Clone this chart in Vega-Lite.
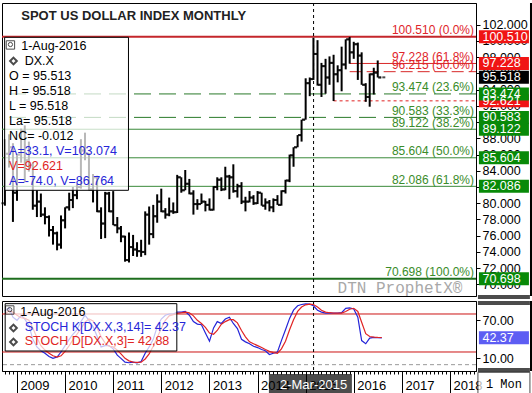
{
"$schema": "https://vega.github.io/schema/vega-lite/v6.json",
"padding": 0,
"spacing": 5,
"bounds": "flush",
"config": {"view": {"stroke": "#000", "strokeWidth": 1}, "font": "Liberation Sans", "text": {"font": "Liberation Sans"}, "axis": {"labelFont": "Liberation Sans"}},
"datasets": {
"ohlc": [
{"d":"2008-10-01","o":80.0,"h":87.9,"l":79.7,"c":86.1},
{"d":"2008-11-01","o":86.1,"h":88.5,"l":84.4,"c":86.9},
{"d":"2008-12-01","o":86.9,"h":87.4,"l":77.7,"c":81.3},
{"d":"2009-01-01","o":81.3,"h":86.0,"l":80.3,"c":86.0},
{"d":"2009-02-01","o":86.0,"h":89.2,"l":85.0,"c":88.9},
{"d":"2009-03-01","o":88.9,"h":89.6,"l":82.6,"c":85.3},
{"d":"2009-04-01","o":85.3,"h":87.6,"l":83.9,"c":84.7},
{"d":"2009-05-01","o":84.7,"h":85.0,"l":79.2,"c":79.7},
{"d":"2009-06-01","o":79.7,"h":81.6,"l":78.3,"c":80.2},
{"d":"2009-07-01","o":80.2,"h":81.2,"l":78.3,"c":78.6},
{"d":"2009-08-01","o":78.6,"h":79.5,"l":77.4,"c":78.3},
{"d":"2009-09-01","o":78.3,"h":78.5,"l":75.9,"c":76.7},
{"d":"2009-10-01","o":76.7,"h":77.2,"l":74.9,"c":76.3},
{"d":"2009-11-01","o":76.3,"h":76.5,"l":74.2,"c":74.9},
{"d":"2009-12-01","o":74.9,"h":78.5,"l":74.4,"c":77.9},
{"d":"2010-01-01","o":77.9,"h":79.5,"l":76.9,"c":79.5},
{"d":"2010-02-01","o":79.5,"h":81.3,"l":79.1,"c":80.4},
{"d":"2010-03-01","o":80.4,"h":82.0,"l":79.4,"c":81.0},
{"d":"2010-04-01","o":81.0,"h":82.4,"l":80.5,"c":82.0},
{"d":"2010-05-01","o":82.0,"h":87.9,"l":81.8,"c":86.5},
{"d":"2010-06-01","o":86.5,"h":88.7,"l":85.3,"c":86.1},
{"d":"2010-07-01","o":86.1,"h":86.2,"l":81.6,"c":81.7},
{"d":"2010-08-01","o":81.7,"h":83.6,"l":80.1,"c":83.2},
{"d":"2010-09-01","o":83.2,"h":83.4,"l":78.9,"c":79.0},
{"d":"2010-10-01","o":79.0,"h":79.5,"l":75.6,"c":77.5},
{"d":"2010-11-01","o":77.5,"h":81.4,"l":75.7,"c":81.2},
{"d":"2010-12-01","o":81.2,"h":81.4,"l":78.9,"c":79.0},
{"d":"2011-01-01","o":79.0,"h":81.5,"l":77.3,"c":77.3},
{"d":"2011-02-01","o":77.3,"h":78.3,"l":76.3,"c":76.9},
{"d":"2011-03-01","o":76.9,"h":77.2,"l":75.2,"c":75.9},
{"d":"2011-04-01","o":75.9,"h":76.0,"l":72.8,"c":73.0},
{"d":"2011-05-01","o":73.0,"h":76.4,"l":72.7,"c":74.6},
{"d":"2011-06-01","o":74.6,"h":76.1,"l":73.5,"c":74.3},
{"d":"2011-07-01","o":74.3,"h":75.2,"l":73.4,"c":74.1},
{"d":"2011-08-01","o":74.1,"h":75.5,"l":73.4,"c":74.0},
{"d":"2011-09-01","o":74.0,"h":79.0,"l":73.6,"c":78.6},
{"d":"2011-10-01","o":78.6,"h":79.6,"l":74.9,"c":76.2},
{"d":"2011-11-01","o":76.2,"h":79.8,"l":75.7,"c":78.4},
{"d":"2011-12-01","o":78.4,"h":81.1,"l":77.6,"c":80.2},
{"d":"2012-01-01","o":80.2,"h":81.8,"l":78.9,"c":79.0},
{"d":"2012-02-01","o":79.0,"h":79.4,"l":78.1,"c":78.6},
{"d":"2012-03-01","o":78.6,"h":80.7,"l":78.4,"c":79.0},
{"d":"2012-04-01","o":79.0,"h":80.1,"l":78.7,"c":78.9},
{"d":"2012-05-01","o":78.9,"h":83.5,"l":78.8,"c":83.2},
{"d":"2012-06-01","o":83.2,"h":83.2,"l":81.3,"c":81.6},
{"d":"2012-07-01","o":81.6,"h":84.1,"l":81.6,"c":82.4},
{"d":"2012-08-01","o":82.4,"h":83.0,"l":81.1,"c":81.2},
{"d":"2012-09-01","o":81.2,"h":81.6,"l":78.6,"c":79.9},
{"d":"2012-10-01","o":79.9,"h":80.5,"l":79.2,"c":79.9},
{"d":"2012-11-01","o":79.9,"h":81.2,"l":79.9,"c":80.2},
{"d":"2012-12-01","o":80.2,"h":80.3,"l":79.0,"c":79.8},
{"d":"2013-01-01","o":79.8,"h":80.6,"l":79.1,"c":79.2},
{"d":"2013-02-01","o":79.2,"h":82.1,"l":79.1,"c":82.0},
{"d":"2013-03-01","o":82.0,"h":83.2,"l":81.6,"c":82.9},
{"d":"2013-04-01","o":82.9,"h":83.2,"l":81.5,"c":81.7},
{"d":"2013-05-01","o":81.7,"h":84.5,"l":81.6,"c":83.3},
{"d":"2013-06-01","o":83.3,"h":83.5,"l":80.5,"c":83.2},
{"d":"2013-07-01","o":83.2,"h":84.8,"l":81.3,"c":81.5},
{"d":"2013-08-01","o":81.5,"h":82.4,"l":80.7,"c":82.1},
{"d":"2013-09-01","o":82.1,"h":82.6,"l":79.9,"c":80.2},
{"d":"2013-10-01","o":80.2,"h":80.8,"l":79.0,"c":80.2},
{"d":"2013-11-01","o":80.2,"h":81.5,"l":80.1,"c":80.7},
{"d":"2013-12-01","o":80.7,"h":81.0,"l":79.8,"c":80.0},
{"d":"2014-01-01","o":80.0,"h":81.5,"l":79.9,"c":81.3},
{"d":"2014-02-01","o":81.3,"h":81.3,"l":79.7,"c":79.7},
{"d":"2014-03-01","o":79.7,"h":80.6,"l":79.2,"c":80.1},
{"d":"2014-04-01","o":80.1,"h":80.4,"l":79.0,"c":79.5},
{"d":"2014-05-01","o":79.5,"h":80.6,"l":78.9,"c":80.4},
{"d":"2014-06-01","o":80.4,"h":81.0,"l":79.8,"c":79.8},
{"d":"2014-07-01","o":79.8,"h":81.6,"l":79.7,"c":81.5},
{"d":"2014-08-01","o":81.5,"h":82.9,"l":81.2,"c":82.8},
{"d":"2014-09-01","o":82.8,"h":86.0,"l":82.6,"c":85.9},
{"d":"2014-10-01","o":85.9,"h":86.9,"l":84.5,"c":86.9},
{"d":"2014-11-01","o":86.9,"h":88.4,"l":86.9,"c":88.4},
{"d":"2014-12-01","o":88.4,"h":90.3,"l":87.6,"c":90.3},
{"d":"2015-01-01","o":90.3,"h":95.4,"l":90.3,"c":94.8},
{"d":"2015-02-01","o":94.8,"h":95.5,"l":93.2,"c":95.3},
{"d":"2015-03-01","o":95.3,"h":100.4,"l":95.2,"c":98.4},
{"d":"2015-04-01","o":98.4,"h":100.1,"l":94.5,"c":94.6},
{"d":"2015-05-01","o":94.6,"h":97.3,"l":93.1,"c":96.9},
{"d":"2015-06-01","o":96.9,"h":97.8,"l":93.5,"c":95.5},
{"d":"2015-07-01","o":95.5,"h":98.1,"l":94.6,"c":97.3},
{"d":"2015-08-01","o":97.3,"h":98.3,"l":92.6,"c":95.9},
{"d":"2015-09-01","o":95.9,"h":97.0,"l":94.9,"c":96.4},
{"d":"2015-10-01","o":96.4,"h":99.3,"l":93.8,"c":97.1},
{"d":"2015-11-01","o":97.1,"h":100.2,"l":96.5,"c":100.2},
{"d":"2015-12-01","o":100.2,"h":100.5,"l":97.2,"c":98.6},
{"d":"2016-01-01","o":98.6,"h":99.9,"l":97.8,"c":99.6},
{"d":"2016-02-01","o":99.6,"h":99.8,"l":95.2,"c":98.2},
{"d":"2016-03-01","o":98.2,"h":98.6,"l":94.6,"c":94.6},
{"d":"2016-04-01","o":94.6,"h":94.8,"l":92.5,"c":93.1},
{"d":"2016-05-01","o":93.1,"h":96.0,"l":91.9,"c":95.9},
{"d":"2016-06-01","o":95.9,"h":96.7,"l":93.4,"c":96.1},
{"d":"2016-07-01","o":96.1,"h":97.6,"l":95.5,"c":95.5},
{"d":"2016-08-01","o":95.513,"h":95.518,"l":95.518,"c":95.518}
],
"stoch": [
{"d":"2008-10-01","k":85,"dv":80},{"d":"2008-11-01","k":90,"dv":85},{"d":"2008-12-01","k":75,"dv":83},
{"d":"2009-01-01","k":70,"dv":78},{"d":"2009-02-01","k":78,"dv":74},{"d":"2009-03-01","k":72,"dv":73},
{"d":"2009-04-01","k":62,"dv":70},{"d":"2009-05-01","k":40,"dv":58},{"d":"2009-06-01","k":28,"dv":43},
{"d":"2009-07-01","k":22,"dv":30},{"d":"2009-08-01","k":18,"dv":23},{"d":"2009-09-01","k":13,"dv":18},
{"d":"2009-10-01","k":10,"dv":14},{"d":"2009-11-01","k":12,"dv":12},{"d":"2009-12-01","k":20,"dv":14},
{"d":"2010-01-01","k":30,"dv":21},{"d":"2010-02-01","k":40,"dv":30},{"d":"2010-03-01","k":48,"dv":39},
{"d":"2010-04-01","k":55,"dv":48},{"d":"2010-05-01","k":68,"dv":57},{"d":"2010-06-01","k":78,"dv":67},
{"d":"2010-07-01","k":70,"dv":72},{"d":"2010-08-01","k":60,"dv":69},{"d":"2010-09-01","k":45,"dv":58},
{"d":"2010-10-01","k":28,"dv":44},{"d":"2010-11-01","k":30,"dv":34},{"d":"2010-12-01","k":30,"dv":29},
{"d":"2011-01-01","k":25,"dv":28},{"d":"2011-02-01","k":15,"dv":23},{"d":"2011-03-01","k":10,"dv":17},
{"d":"2011-04-01","k":4,"dv":10},{"d":"2011-05-01","k":3,"dv":6},{"d":"2011-06-01","k":4,"dv":4},
{"d":"2011-07-01","k":3,"dv":3.5},{"d":"2011-08-01","k":5,"dv":4},{"d":"2011-09-01","k":18,"dv":9},
{"d":"2011-10-01","k":28,"dv":17},{"d":"2011-11-01","k":40,"dv":29},{"d":"2011-12-01","k":60,"dv":43},
{"d":"2012-01-01","k":72,"dv":57},{"d":"2012-02-01","k":78,"dv":70},{"d":"2012-03-01","k":80,"dv":77},
{"d":"2012-04-01","k":80,"dv":79},{"d":"2012-05-01","k":83,"dv":81},{"d":"2012-06-01","k":83,"dv":82},
{"d":"2012-07-01","k":84,"dv":83},{"d":"2012-08-01","k":78,"dv":82},{"d":"2012-09-01","k":68,"dv":77},
{"d":"2012-10-01","k":64,"dv":70},{"d":"2012-11-01","k":63,"dv":65},{"d":"2012-12-01","k":50,"dv":59},
{"d":"2013-01-01","k":37,"dv":50},{"d":"2013-02-01","k":58,"dv":48},{"d":"2013-03-01","k":68,"dv":54},
{"d":"2013-04-01","k":65,"dv":64},{"d":"2013-05-01","k":72,"dv":68},{"d":"2013-06-01","k":75,"dv":71},
{"d":"2013-07-01","k":65,"dv":71},{"d":"2013-08-01","k":57,"dv":66},{"d":"2013-09-01","k":40,"dv":54},
{"d":"2013-10-01","k":36,"dv":44},{"d":"2013-11-01","k":33,"dv":36},{"d":"2013-12-01","k":29,"dv":33},
{"d":"2014-01-01","k":27,"dv":30},{"d":"2014-02-01","k":24,"dv":27},{"d":"2014-03-01","k":22,"dv":24},
{"d":"2014-04-01","k":16,"dv":21},{"d":"2014-05-01","k":18,"dv":19},{"d":"2014-06-01","k":20,"dv":18},
{"d":"2014-07-01","k":38,"dv":25},{"d":"2014-08-01","k":55,"dv":37},{"d":"2014-09-01","k":73,"dv":55},
{"d":"2014-10-01","k":86,"dv":71},{"d":"2014-11-01","k":93,"dv":84},{"d":"2014-12-01","k":95,"dv":91},
{"d":"2015-01-01","k":96,"dv":94.5},{"d":"2015-02-01","k":95.5,"dv":95.5},{"d":"2015-03-01","k":93,"dv":95},
{"d":"2015-04-01","k":86,"dv":91},{"d":"2015-05-01","k":83,"dv":86},{"d":"2015-06-01","k":81.5,"dv":83},
{"d":"2015-07-01","k":81.5,"dv":82},{"d":"2015-08-01","k":81.5,"dv":81.5},{"d":"2015-09-01","k":81.5,"dv":81.5},
{"d":"2015-10-01","k":82,"dv":81.5},{"d":"2015-11-01","k":89,"dv":84},{"d":"2015-12-01","k":89.5,"dv":87.5},
{"d":"2016-01-01","k":88,"dv":89},{"d":"2016-02-01","k":75,"dv":84},{"d":"2016-03-01","k":38,"dv":67},
{"d":"2016-04-01","k":33,"dv":49},{"d":"2016-05-01","k":42,"dv":44.5},{"d":"2016-06-01","k":43,"dv":43.5},
{"d":"2016-07-01","k":42.5,"dv":43},{"d":"2016-08-01","k":42.37,"dv":42.88}
],
"fib": [
{"v":100.51,"label":"100.510 (0.0%)","set":"recent","from":"2008-09-09"},
{"v":97.228,"label":"97.228 (61.8%)","set":"recent","from":"2015-12-01"},
{"v":96.215,"label":"96.215 (50.0%)","set":"recent","from":"2015-12-01"},
{"v":93.474,"label":"93.474 (23.6%)","set":"long","from":"2008-09-09"},
{"v":90.583,"label":"90.583 (33.3%)","set":"long","from":"2008-09-09"},
{"v":89.122,"label":"89.122 (38.2%)","set":"long","from":"2008-09-09"},
{"v":85.604,"label":"85.604 (50.0%)","set":"long","from":"2008-09-09"},
{"v":82.086,"label":"82.086 (61.8%)","set":"long","from":"2008-09-09"},
{"v":70.698,"label":"70.698 (100.0%)","set":"long","from":"2008-09-09"}
],
"swing": [{"v":92.621,"from":"2015-08-01"}],
"tags": [
{"v":100.51,"txt":"100.510","kind":"recent"},
{"v":97.228,"txt":"97.228","kind":"recent"},
{"v":95.518,"txt":"95.518","kind":"last"},
{"v":92.621,"txt":"92.621","kind":"recent"},
{"v":93.474,"txt":"93.474","kind":"long"},
{"v":90.583,"txt":"90.583","kind":"long"},
{"v":89.122,"txt":"89.122","kind":"long"},
{"v":85.604,"txt":"85.604","kind":"long"},
{"v":82.086,"txt":"82.086","kind":"long"},
{"v":70.698,"txt":"70.698","kind":"long"}
],
"legend": [
{"line":1,"txt":"1-Aug-2016","kind":"info"},
{"line":2,"txt":"DX.X","kind":"info"},
{"line":3,"txt":"O = 95.513","kind":"info"},
{"line":4,"txt":"H = 95.518","kind":"info"},
{"line":5,"txt":"L = 95.518","kind":"info"},
{"line":6,"txt":"La= 95.518","kind":"info"},
{"line":7,"txt":"NC= -0.012","kind":"info"},
{"line":8,"txt":"A=33.1, V=103.074","kind":"trend"},
{"line":9,"txt":"V=92.621","kind":"level"},
{"line":10,"txt":"A=-74.0, V=86.764","kind":"trend"}
],
"stochtag": [{"v":42.37,"txt":"42.37"}],
"bands": [{"lvl":80},{"lvl":20}]
},
"vconcat": [
{
"width": 474, "height": 293,
"resolve": {"scale": {"y": "independent", "color": "independent"}},
"layer": [
{"layer": [
{"data": {"name": "fib"}, "transform": [{"filter": "datum.v == 89.122 || datum.v == 85.604 || datum.v == 82.086"}],
 "mark": {"type": "rule", "color": "#3a8a3a", "strokeWidth": 1},
 "encoding": {"y": {"field": "v", "type": "quantitative", "scale": {"domain": [68.57, 104.68], "nice": false, "zero": false},
   "axis": {"orient": "right", "values": [70,72,74,76,78,80,82,84,86,88,90,92,94,96,98,100,102], "format": ".3f", "title": null, "grid": false, "labelFontSize": 12.5, "labelColor": "#000", "tickColor": "#000", "domainColor": "#000", "tickSize": 4, "labelPadding": 2, "labelOverlap": false, "labelBound": false}}}},
{"data": {"name": "fib"}, "transform": [{"filter": "datum.v == 70.698"}],
 "mark": {"type": "rule", "color": "#1e6e1e", "strokeWidth": 2},
 "encoding": {"y": {"field": "v", "type": "quantitative", "scale": {"domain": [68.57, 104.68], "nice": false, "zero": false},
   "axis": {"orient": "right", "values": [70,72,74,76,78,80,82,84,86,88,90,92,94,96,98,100,102], "format": ".3f", "title": null, "grid": false, "labelFontSize": 12.5, "labelColor": "#000", "tickColor": "#000", "domainColor": "#000", "tickSize": 4, "labelPadding": 2, "labelOverlap": false, "labelBound": false}}}},
{"data": {"name": "fib"}, "transform": [{"filter": "datum.v == 93.474 || datum.v == 90.583"}],
 "mark": {"type": "rule", "color": "#2a7a2a", "strokeWidth": 1, "strokeDash": [17, 8]},
 "encoding": {"y": {"field": "v", "type": "quantitative", "scale": {"domain": [68.57, 104.68], "nice": false, "zero": false},
   "axis": {"orient": "right", "values": [70,72,74,76,78,80,82,84,86,88,90,92,94,96,98,100,102], "format": ".3f", "title": null, "grid": false, "labelFontSize": 12.5, "labelColor": "#000", "tickColor": "#000", "domainColor": "#000", "tickSize": 4, "labelPadding": 2, "labelOverlap": false, "labelBound": false}}}},
{"data": {"name": "fib"}, "transform": [{"filter": "datum.v == 100.51"}],
 "mark": {"type": "rule", "color": "#c4262b", "strokeWidth": 2},
 "encoding": {"y": {"field": "v", "type": "quantitative", "scale": {"domain": [68.57, 104.68], "nice": false, "zero": false},
   "axis": {"orient": "right", "values": [70,72,74,76,78,80,82,84,86,88,90,92,94,96,98,100,102], "format": ".3f", "title": null, "grid": false, "labelFontSize": 12.5, "labelColor": "#000", "tickColor": "#000", "domainColor": "#000", "tickSize": 4, "labelPadding": 2, "labelOverlap": false, "labelBound": false}}}},
{"data": {"name": "fib"}, "transform": [{"filter": "datum.v == 97.228"}],
 "mark": {"type": "rule", "color": "#d82828", "strokeWidth": 1},
 "encoding": {"x": {"field": "from", "type": "temporal", "scale": {"type": "utc", "domain": [{"year":2008,"month":9,"date":9,"utc":true}, {"year":2018,"month":7,"date":17,"utc":true}]}, "axis": null}, "x2": {"datum": {"year":2018,"month":7,"date":17,"utc":true}}, "y": {"field": "v", "type": "quantitative", "scale": {"domain": [68.57, 104.68], "nice": false, "zero": false},
   "axis": {"orient": "right", "values": [70,72,74,76,78,80,82,84,86,88,90,92,94,96,98,100,102], "format": ".3f", "title": null, "grid": false, "labelFontSize": 12.5, "labelColor": "#000", "tickColor": "#000", "domainColor": "#000", "tickSize": 4, "labelPadding": 2, "labelOverlap": false, "labelBound": false}}}},
{"data": {"name": "fib"}, "transform": [{"filter": "datum.v == 96.215"}],
 "mark": {"type": "rule", "color": "#d82828", "strokeWidth": 1, "strokeDash": [12, 5]},
 "encoding": {"x": {"field": "from", "type": "temporal", "scale": {"type": "utc", "domain": [{"year":2008,"month":9,"date":9,"utc":true}, {"year":2018,"month":7,"date":17,"utc":true}]}, "axis": null}, "x2": {"datum": {"year":2018,"month":7,"date":17,"utc":true}}, "y": {"field": "v", "type": "quantitative", "scale": {"domain": [68.57, 104.68], "nice": false, "zero": false},
   "axis": {"orient": "right", "values": [70,72,74,76,78,80,82,84,86,88,90,92,94,96,98,100,102], "format": ".3f", "title": null, "grid": false, "labelFontSize": 12.5, "labelColor": "#000", "tickColor": "#000", "domainColor": "#000", "tickSize": 4, "labelPadding": 2, "labelOverlap": false, "labelBound": false}}}},
{"data": {"name": "swing"},
 "mark": {"type": "rule", "color": "#e02020", "strokeWidth": 1, "strokeDash": [3, 3]},
 "encoding": {"x": {"field": "from", "type": "temporal", "scale": {"type": "utc", "domain": [{"year":2008,"month":9,"date":9,"utc":true}, {"year":2018,"month":7,"date":17,"utc":true}]}, "axis": null}, "x2": {"datum": {"year":2018,"month":7,"date":17,"utc":true}}, "y": {"field": "v", "type": "quantitative", "scale": {"domain": [68.57, 104.68], "nice": false, "zero": false},
   "axis": {"orient": "right", "values": [70,72,74,76,78,80,82,84,86,88,90,92,94,96,98,100,102], "format": ".3f", "title": null, "grid": false, "labelFontSize": 12.5, "labelColor": "#000", "tickColor": "#000", "domainColor": "#000", "tickSize": 4, "labelPadding": 2, "labelOverlap": false, "labelBound": false}}}},
{"data": {"values": [{}]},
 "mark": {"type": "rule", "color": "#000", "strokeWidth": 1, "strokeDash": [3, 3]},
 "encoding": {"x": {"datum": {"year":2015,"month":3,"date":2,"utc":true}, "type": "temporal", "scale": {"type": "utc", "domain": [{"year":2008,"month":9,"date":9,"utc":true}, {"year":2018,"month":7,"date":17,"utc":true}]}, "axis": null}}},
{"data": {"name": "ohlc"},
 "mark": {"type": "rule", "color": "#000", "strokeWidth": 2},
 "encoding": {"x": {"field": "d", "type": "temporal", "scale": {"type": "utc", "domain": [{"year":2008,"month":9,"date":9,"utc":true}, {"year":2018,"month":7,"date":17,"utc":true}]}, "axis": null},
  "y": {"field": "l", "type": "quantitative", "scale": {"domain": [68.57, 104.68], "nice": false, "zero": false},
   "axis": {"orient": "right", "values": [70,72,74,76,78,80,82,84,86,88,90,92,94,96,98,100,102], "format": ".3f", "title": null, "grid": false, "labelFontSize": 12.5, "labelColor": "#000", "tickColor": "#000", "domainColor": "#000", "tickSize": 4, "labelPadding": 2, "labelOverlap": false, "labelBound": false}}, "y2": {"field": "h"}}},
{"data": {"name": "ohlc"},
 "mark": {"type": "tick", "orient": "horizontal", "color": "#000", "size": 3, "thickness": 2, "xOffset": -2},
 "encoding": {"x": {"field": "d", "type": "temporal", "scale": {"type": "utc", "domain": [{"year":2008,"month":9,"date":9,"utc":true}, {"year":2018,"month":7,"date":17,"utc":true}]}, "axis": null}, "y": {"field": "o", "type": "quantitative", "scale": {"domain": [68.57, 104.68], "nice": false, "zero": false},
   "axis": {"orient": "right", "values": [70,72,74,76,78,80,82,84,86,88,90,92,94,96,98,100,102], "format": ".3f", "title": null, "grid": false, "labelFontSize": 12.5, "labelColor": "#000", "tickColor": "#000", "domainColor": "#000", "tickSize": 4, "labelPadding": 2, "labelOverlap": false, "labelBound": false}}}},
{"data": {"name": "ohlc"},
 "mark": {"type": "tick", "orient": "horizontal", "color": "#000", "size": 3, "thickness": 2, "xOffset": 2},
 "encoding": {"x": {"field": "d", "type": "temporal", "scale": {"type": "utc", "domain": [{"year":2008,"month":9,"date":9,"utc":true}, {"year":2018,"month":7,"date":17,"utc":true}]}, "axis": null}, "y": {"field": "c", "type": "quantitative", "scale": {"domain": [68.57, 104.68], "nice": false, "zero": false},
   "axis": {"orient": "right", "values": [70,72,74,76,78,80,82,84,86,88,90,92,94,96,98,100,102], "format": ".3f", "title": null, "grid": false, "labelFontSize": 12.5, "labelColor": "#000", "tickColor": "#000", "domainColor": "#000", "tickSize": 4, "labelPadding": 2, "labelOverlap": false, "labelBound": false}}}},
{"data": {"name": "fib"},
 "mark": {"type": "text", "align": "right", "baseline": "alphabetic", "dx": -2, "dy": -2.5, "fontSize": 12},
 "encoding": {"x": {"datum": {"year":2018,"month":7,"date":17,"utc":true}, "type": "temporal", "scale": {"type": "utc", "domain": [{"year":2008,"month":9,"date":9,"utc":true}, {"year":2018,"month":7,"date":17,"utc":true}]}, "axis": null}, "y": {"field": "v", "type": "quantitative", "scale": {"domain": [68.57, 104.68], "nice": false, "zero": false},
   "axis": {"orient": "right", "values": [70,72,74,76,78,80,82,84,86,88,90,92,94,96,98,100,102], "format": ".3f", "title": null, "grid": false, "labelFontSize": 12.5, "labelColor": "#000", "tickColor": "#000", "domainColor": "#000", "tickSize": 4, "labelPadding": 2, "labelOverlap": false, "labelBound": false}}, "text": {"field": "label"},
  "color": {"field": "set", "type": "nominal", "scale": {"domain": ["recent", "long"], "range": ["#e0242a", "#3a8c2a"]}, "legend": null}}},
{"data": {"values": [{}]},
 "mark": {"type": "text", "align": "left", "baseline": "middle", "fontSize": 13, "fontWeight": "bold", "color": "#222"},
 "encoding": {"x": {"datum": {"year":2009,"month":2,"date":2,"utc":true}, "type": "temporal", "scale": {"type": "utc", "domain": [{"year":2008,"month":9,"date":9,"utc":true}, {"year":2018,"month":7,"date":17,"utc":true}]}, "axis": null}, "y": {"datum": 103.07, "type": "quantitative", "scale": {"domain": [68.57, 104.68], "nice": false, "zero": false},
   "axis": {"orient": "right", "values": [70,72,74,76,78,80,82,84,86,88,90,92,94,96,98,100,102], "format": ".3f", "title": null, "grid": false, "labelFontSize": 12.5, "labelColor": "#000", "tickColor": "#000", "domainColor": "#000", "tickSize": 4, "labelPadding": 2, "labelOverlap": false, "labelBound": false}}, "text": {"value": "SPOT US DOLLAR INDEX MONTHLY"}}},
{"data": {"values": [{}]},
 "mark": {"type": "text", "align": "center", "baseline": "middle", "fontSize": 16, "font": "Liberation Mono", "color": "#a8a8a8"},
 "encoding": {"x": {"datum": {"year":2016,"month":12,"date":17,"utc":true}, "type": "temporal", "scale": {"type": "utc", "domain": [{"year":2008,"month":9,"date":9,"utc":true}, {"year":2018,"month":7,"date":17,"utc":true}]}, "axis": null}, "y": {"datum": 69.55, "type": "quantitative", "scale": {"domain": [68.57, 104.68], "nice": false, "zero": false},
   "axis": {"orient": "right", "values": [70,72,74,76,78,80,82,84,86,88,90,92,94,96,98,100,102], "format": ".3f", "title": null, "grid": false, "labelFontSize": 12.5, "labelColor": "#000", "tickColor": "#000", "domainColor": "#000", "tickSize": 4, "labelPadding": 2, "labelOverlap": false, "labelBound": false}}, "text": {"value": "DTN ProphetX®"}}},
{"data": {"name": "tags"},
 "mark": {"type": "tick", "orient": "horizontal", "size": 50, "thickness": 13, "clip": false, "opacity": 1},
 "encoding": {"x": {"datum": {"year":2019,"month":2,"date":14,"utc":true}, "type": "temporal", "scale": {"type": "utc", "domain": [{"year":2008,"month":9,"date":9,"utc":true}, {"year":2018,"month":7,"date":17,"utc":true}]}, "axis": null}, "y": {"field": "v", "type": "quantitative", "scale": {"domain": [68.57, 104.68], "nice": false, "zero": false},
   "axis": {"orient": "right", "values": [70,72,74,76,78,80,82,84,86,88,90,92,94,96,98,100,102], "format": ".3f", "title": null, "grid": false, "labelFontSize": 12.5, "labelColor": "#000", "tickColor": "#000", "domainColor": "#000", "tickSize": 4, "labelPadding": 2, "labelOverlap": false, "labelBound": false}},
  "fill": {"field": "kind", "type": "nominal", "scale": {"domain": ["recent", "last", "long"], "range": ["#f01414", "#000000", "#088a08"]}, "legend": null}}},
{"data": {"name": "tags"},
 "mark": {"type": "text", "align": "left", "baseline": "middle", "fontSize": 12.5, "color": "#fff", "clip": false},
 "encoding": {"x": {"datum": {"year":2018,"month":9,"date":4,"utc":true}, "type": "temporal", "scale": {"type": "utc", "domain": [{"year":2008,"month":9,"date":9,"utc":true}, {"year":2018,"month":7,"date":17,"utc":true}]}, "axis": null}, "y": {"field": "v", "type": "quantitative", "scale": {"domain": [68.57, 104.68], "nice": false, "zero": false},
   "axis": {"orient": "right", "values": [70,72,74,76,78,80,82,84,86,88,90,92,94,96,98,100,102], "format": ".3f", "title": null, "grid": false, "labelFontSize": 12.5, "labelColor": "#000", "tickColor": "#000", "domainColor": "#000", "tickSize": 4, "labelPadding": 2, "labelOverlap": false, "labelBound": false}}, "text": {"field": "txt"}}},
{"data": {"values": [{}]},
 "mark": {"type": "tick", "orient": "horizontal", "size": 52, "thickness": 4, "color": "#000", "clip": false},
 "encoding": {"x": {"datum": {"year":2019,"month":2,"date":14,"utc":true}, "type": "temporal", "scale": {"type": "utc", "domain": [{"year":2008,"month":9,"date":9,"utc":true}, {"year":2018,"month":7,"date":17,"utc":true}]}, "axis": null}, "y": {"datum": 68.44, "type": "quantitative", "scale": {"domain": [68.57, 104.68], "nice": false, "zero": false},
   "axis": {"orient": "right", "values": [70,72,74,76,78,80,82,84,86,88,90,92,94,96,98,100,102], "format": ".3f", "title": null, "grid": false, "labelFontSize": 12.5, "labelColor": "#000", "tickColor": "#000", "domainColor": "#000", "tickSize": 4, "labelPadding": 2, "labelOverlap": false, "labelBound": false}}}},
{"data": {"values": [{}]},
 "mark": {"type": "rule", "color": "#000", "strokeWidth": 4, "clip": false},
 "encoding": {"x": {"datum": {"year":2019,"month":9,"date":15,"utc":true}, "type": "temporal", "scale": {"type": "utc", "domain": [{"year":2008,"month":9,"date":9,"utc":true}, {"year":2018,"month":7,"date":17,"utc":true}]}, "axis": null}}}
]},
{"data": {"name": "legend"},
 "layer": [
 {"data": {"values": [{}]},
  "mark": {"type": "rect", "fill": "#fff", "fillOpacity": 0.72, "stroke": "#000", "strokeWidth": 1},
  "encoding": {"x": {"datum": {"year":2008,"month":9,"date":29,"utc":true}, "type": "temporal", "axis": null}, "x2": {"datum": {"year":2011,"month":4,"date":27,"utc":true}},
   "y": {"datum": 0.44, "type": "quantitative", "scale": {"domain": [-1.847, 17.687], "reverse": true, "nice": false, "zero": false}, "axis": null}, "y2": {"datum": 10.64}}},
 {"transform": [{"filter": "datum.line >= 3"}],
  "mark": {"type": "text", "align": "left", "baseline": "middle", "fontSize": 12.5},
  "encoding": {"x": {"datum": {"year":2008,"month":11,"date":2,"utc":true}, "type": "temporal", "axis": null}, "y": {"field": "line", "type": "quantitative", "scale": {"domain": [-1.847, 17.687], "reverse": true, "nice": false, "zero": false}, "axis": null}, "text": {"field": "txt"},
   "color": {"field": "kind", "type": "nominal", "scale": {"domain": ["info", "trend", "level"], "range": ["#000000", "#2626d8", "#e02424"]}, "legend": null}}},
 {"transform": [{"filter": "datum.line == 1"}],
  "mark": {"type": "text", "align": "left", "baseline": "middle", "fontSize": 12.5, "color": "#000"},
  "encoding": {"x": {"datum": {"year":2009,"month":2,"date":2,"utc":true}, "type": "temporal", "axis": null}, "y": {"field": "line", "type": "quantitative", "scale": {"domain": [-1.847, 17.687], "reverse": true, "nice": false, "zero": false}, "axis": null}, "text": {"field": "txt"}}},
 {"transform": [{"filter": "datum.line == 2"}],
  "mark": {"type": "text", "align": "left", "baseline": "middle", "fontSize": 12.5, "color": "#000"},
  "encoding": {"x": {"datum": {"year":2009,"month":2,"date":28,"utc":true}, "type": "temporal", "axis": null}, "y": {"field": "line", "type": "quantitative", "scale": {"domain": [-1.847, 17.687], "reverse": true, "nice": false, "zero": false}, "axis": null}, "text": {"field": "txt"}}},
 {"data": {"values": [{}]},
  "mark": {"type": "point", "shape": "square", "size": 70, "filled": false, "stroke": "#000", "strokeWidth": 1},
  "encoding": {"x": {"datum": {"year":2008,"month":11,"date":12,"utc":true}, "type": "temporal", "axis": null}, "y": {"datum": 0.95, "type": "quantitative", "scale": {"domain": [-1.847, 17.687], "reverse": true, "nice": false, "zero": false}, "axis": null}}},
 {"data": {"values": [{}]},
  "mark": {"type": "point", "shape": "circle", "size": 18, "filled": false, "stroke": "#000", "strokeWidth": 1},
  "encoding": {"x": {"datum": {"year":2008,"month":11,"date":12,"utc":true}, "type": "temporal", "axis": null}, "y": {"datum": 0.92, "type": "quantitative", "scale": {"domain": [-1.847, 17.687], "reverse": true, "nice": false, "zero": false}, "axis": null}}},
 {"data": {"values": [{}]},
  "mark": {"type": "point", "shape": "diamond", "size": 45, "filled": false, "stroke": "#000", "strokeWidth": 2},
  "encoding": {"x": {"datum": {"year":2008,"month":12,"date":5,"utc":true}, "type": "temporal", "axis": null}, "y": {"datum": 2.02, "type": "quantitative", "scale": {"domain": [-1.847, 17.687], "reverse": true, "nice": false, "zero": false}, "axis": null}}}
 ]}
]
},
{
"width": 474, "height": 70,
"layer": [
{"data": {"name": "bands"},
 "mark": {"type": "rule", "color": "#cc1414", "strokeWidth": 1},
 "encoding": {"y": {"field": "lvl", "type": "quantitative", "scale": {"domain": [-10, 100.5], "nice": false, "zero": false},
   "axis": {"orient": "right", "values": [10, 40, 70], "format": ".2f", "title": null, "grid": false, "labelFontSize": 12.5, "labelColor": "#000", "tickColor": "#000", "domainColor": "#000", "tickSize": 4, "labelPadding": 2, "labelOverlap": false}}}},
{"data": {"values": [{}]},
 "mark": {"type": "rule", "color": "#999", "strokeWidth": 1, "strokeDash": [4, 3]},
 "encoding": {"y": {"datum": 0, "type": "quantitative", "scale": {"domain": [-10, 100.5], "nice": false, "zero": false}}}},
{"data": {"values": [{}]},
 "mark": {"type": "rule", "color": "#000", "strokeWidth": 1, "strokeDash": [3, 3]},
 "encoding": {"x": {"datum": {"year":2015,"month":3,"date":2,"utc":true}, "type": "temporal", "scale": {"type": "utc", "domain": [{"year":2008,"month":9,"date":9,"utc":true}, {"year":2018,"month":7,"date":17,"utc":true}]}}}},
{"data": {"name": "stoch"},
 "mark": {"type": "line", "color": "#2424d8", "strokeWidth": 1.2},
 "encoding": {"x": {"field": "d", "type": "temporal", "scale": {"type": "utc", "domain": [{"year":2008,"month":9,"date":9,"utc":true}, {"year":2018,"month":7,"date":17,"utc":true}]},
   "axis": {"orient": "bottom", "title": null, "grid": false, "tickCount": {"interval": "month", "step": 1},
     "labelExpr": "utcmonth(datum.value) === 0 ? utcFormat(datum.value, '%Y') : ''",
     "labelAlign": "left", "labelOffset": 3, "labelBaseline": "top", "labelPadding": -17, "labelFontSize": 13, "labelColor": "#000",
     "labelFlush": false, "labelOverlap": false, "labelBound": false,
     "tickSize": {"condition": {"test": "utcmonth(datum.value) === 0", "value": 25}, "value": 3},
     "tickColor": "#000", "domainColor": "#000"}},
  "y": {"field": "k", "type": "quantitative", "scale": {"domain": [-10, 100.5], "nice": false, "zero": false}}}},
{"data": {"name": "stoch"},
 "mark": {"type": "line", "color": "#e02424", "strokeWidth": 1.2},
 "encoding": {"x": {"field": "d", "type": "temporal", "scale": {"type": "utc", "domain": [{"year":2008,"month":9,"date":9,"utc":true}, {"year":2018,"month":7,"date":17,"utc":true}]}}, "y": {"field": "dv", "type": "quantitative", "scale": {"domain": [-10, 100.5], "nice": false, "zero": false}}}},
{"data": {"values": [{}]},
 "mark": {"type": "rect", "fill": "#fff", "fillOpacity": 0.72, "stroke": "#000", "strokeWidth": 1},
 "encoding": {"x": {"datum": {"year":2008,"month":10,"date":3,"utc":true}, "type": "temporal", "scale": {"type": "utc", "domain": [{"year":2008,"month":9,"date":9,"utc":true}, {"year":2018,"month":7,"date":17,"utc":true}]}}, "x2": {"datum": {"year":2012,"month":4,"date":28,"utc":true}},
  "y": {"datum": 96.3, "type": "quantitative", "scale": {"domain": [-10, 100.5], "nice": false, "zero": false}}, "y2": {"datum": 21.55}}},
{"data": {"values": [{}]},
 "mark": {"type": "text", "align": "left", "baseline": "middle", "fontSize": 12.5, "color": "#000"},
 "encoding": {"x": {"datum": {"year":2009,"month":1,"date":25,"utc":true}, "type": "temporal", "scale": {"type": "utc", "domain": [{"year":2008,"month":9,"date":9,"utc":true}, {"year":2018,"month":7,"date":17,"utc":true}]}}, "y": {"datum": 83.2, "type": "quantitative", "scale": {"domain": [-10, 100.5], "nice": false, "zero": false}}, "text": {"value": "1-Aug-2016"}}},
{"data": {"values": [{}]},
 "mark": {"type": "text", "align": "left", "baseline": "middle", "fontSize": 12.5, "color": "#2626d8"},
 "encoding": {"x": {"datum": {"year":2009,"month":2,"date":28,"utc":true}, "type": "temporal", "scale": {"type": "utc", "domain": [{"year":2008,"month":9,"date":9,"utc":true}, {"year":2018,"month":7,"date":17,"utc":true}]}}, "y": {"datum": 59, "type": "quantitative", "scale": {"domain": [-10, 100.5], "nice": false, "zero": false}}, "text": {"value": "STOCH K[DX.X,3,14]= 42.37"}}},
{"data": {"values": [{}]},
 "mark": {"type": "text", "align": "left", "baseline": "middle", "fontSize": 12.5, "color": "#e02424"},
 "encoding": {"x": {"datum": {"year":2009,"month":2,"date":28,"utc":true}, "type": "temporal", "scale": {"type": "utc", "domain": [{"year":2008,"month":9,"date":9,"utc":true}, {"year":2018,"month":7,"date":17,"utc":true}]}}, "y": {"datum": 36.9, "type": "quantitative", "scale": {"domain": [-10, 100.5], "nice": false, "zero": false}}, "text": {"value": "STOCH D[DX.X,3]= 42,88"}}},
{"data": {"values": [{}]},
 "mark": {"type": "point", "shape": "square", "size": 70, "filled": false, "stroke": "#000", "strokeWidth": 1},
 "encoding": {"x": {"datum": {"year":2008,"month":11,"date":7,"utc":true}, "type": "temporal", "scale": {"type": "utc", "domain": [{"year":2008,"month":9,"date":9,"utc":true}, {"year":2018,"month":7,"date":17,"utc":true}]}}, "y": {"datum": 86.3, "type": "quantitative", "scale": {"domain": [-10, 100.5], "nice": false, "zero": false}}}},
{"data": {"values": [{}]},
 "mark": {"type": "point", "shape": "circle", "size": 18, "filled": false, "stroke": "#000", "strokeWidth": 1},
 "encoding": {"x": {"datum": {"year":2008,"month":11,"date":7,"utc":true}, "type": "temporal", "scale": {"type": "utc", "domain": [{"year":2008,"month":9,"date":9,"utc":true}, {"year":2018,"month":7,"date":17,"utc":true}]}}, "y": {"datum": 86.8, "type": "quantitative", "scale": {"domain": [-10, 100.5], "nice": false, "zero": false}}}},
{"data": {"values": [{}]},
 "mark": {"type": "point", "shape": "diamond", "size": 45, "filled": false, "stroke": "#000", "strokeWidth": 2},
 "encoding": {"x": {"datum": {"year":2008,"month":12,"date":5,"utc":true}, "type": "temporal", "scale": {"type": "utc", "domain": [{"year":2008,"month":9,"date":9,"utc":true}, {"year":2018,"month":7,"date":17,"utc":true}]}}, "y": {"datum": 57.9, "type": "quantitative", "scale": {"domain": [-10, 100.5], "nice": false, "zero": false}}}},
{"data": {"values": [{}]},
 "mark": {"type": "point", "shape": "diamond", "size": 45, "filled": false, "stroke": "#000", "strokeWidth": 2},
 "encoding": {"x": {"datum": {"year":2008,"month":12,"date":5,"utc":true}, "type": "temporal", "scale": {"type": "utc", "domain": [{"year":2008,"month":9,"date":9,"utc":true}, {"year":2018,"month":7,"date":17,"utc":true}]}}, "y": {"datum": 35.8, "type": "quantitative", "scale": {"domain": [-10, 100.5], "nice": false, "zero": false}}}},
{"data": {"values": [{}]},
 "mark": {"type": "tick", "orient": "horizontal", "size": 83, "thickness": 22, "color": "#000", "clip": false},
 "encoding": {"x": {"datum": {"year":2015,"month":2,"date":6,"utc":true}, "type": "temporal", "scale": {"type": "utc", "domain": [{"year":2008,"month":9,"date":9,"utc":true}, {"year":2018,"month":7,"date":17,"utc":true}]}}, "y": {"datum": -32.2, "type": "quantitative", "scale": {"domain": [-10, 100.5], "nice": false, "zero": false}}}},
{"data": {"values": [{}]},
 "mark": {"type": "text", "align": "center", "baseline": "middle", "fontSize": 13, "color": "#fff", "clip": false},
 "encoding": {"x": {"datum": {"year":2015,"month":3,"date":2,"utc":true}, "type": "temporal", "scale": {"type": "utc", "domain": [{"year":2008,"month":9,"date":9,"utc":true}, {"year":2018,"month":7,"date":17,"utc":true}]}}, "y": {"datum": -32.2, "type": "quantitative", "scale": {"domain": [-10, 100.5], "nice": false, "zero": false}}, "text": {"value": "2-Mar-2015"}}},
{"data": {"values": [{}]},
 "mark": {"type": "tick", "orient": "horizontal", "size": 52, "thickness": 24, "fill": "#fff", "stroke": "#000", "strokeWidth": 1, "clip": false},
 "encoding": {"x": {"datum": {"year":2019,"month":2,"date":14,"utc":true}, "type": "temporal", "scale": {"type": "utc", "domain": [{"year":2008,"month":9,"date":9,"utc":true}, {"year":2018,"month":7,"date":17,"utc":true}]}}, "y": {"datum": -31, "type": "quantitative", "scale": {"domain": [-10, 100.5], "nice": false, "zero": false}}}},
{"data": {"values": [{}]},
 "mark": {"type": "text", "align": "center", "baseline": "middle", "fontSize": 12, "font": "Liberation Mono", "color": "#000", "clip": false},
 "encoding": {"x": {"datum": {"year":2019,"month":2,"date":14,"utc":true}, "type": "temporal", "scale": {"type": "utc", "domain": [{"year":2008,"month":9,"date":9,"utc":true}, {"year":2018,"month":7,"date":17,"utc":true}]}}, "y": {"datum": -30, "type": "quantitative", "scale": {"domain": [-10, 100.5], "nice": false, "zero": false}}, "text": {"value": "1 Mon"}}},
{"data": {"values": [{}]},
 "mark": {"type": "tick", "orient": "horizontal", "size": 52, "thickness": 4, "color": "#000", "clip": false},
 "encoding": {"x": {"datum": {"year":2019,"month":2,"date":14,"utc":true}, "type": "temporal", "scale": {"type": "utc", "domain": [{"year":2008,"month":9,"date":9,"utc":true}, {"year":2018,"month":7,"date":17,"utc":true}]}}, "y": {"datum": 97.4, "type": "quantitative", "scale": {"domain": [-10, 100.5], "nice": false, "zero": false}}}},
{"data": {"values": [{}]},
 "mark": {"type": "tick", "orient": "horizontal", "size": 52, "thickness": 4, "color": "#000", "clip": false},
 "encoding": {"x": {"datum": {"year":2019,"month":2,"date":14,"utc":true}, "type": "temporal", "scale": {"type": "utc", "domain": [{"year":2008,"month":9,"date":9,"utc":true}, {"year":2018,"month":7,"date":17,"utc":true}]}}, "y": {"datum": -8.5, "type": "quantitative", "scale": {"domain": [-10, 100.5], "nice": false, "zero": false}}}},
{"data": {"name": "stochtag"},
 "mark": {"type": "tick", "orient": "horizontal", "size": 50, "thickness": 13, "color": "#1818ee", "clip": false},
 "encoding": {"x": {"datum": {"year":2019,"month":2,"date":14,"utc":true}, "type": "temporal", "scale": {"type": "utc", "domain": [{"year":2008,"month":9,"date":9,"utc":true}, {"year":2018,"month":7,"date":17,"utc":true}]}}, "y": {"field": "v", "type": "quantitative", "scale": {"domain": [-10, 100.5], "nice": false, "zero": false}}}},
{"data": {"name": "stochtag"},
 "mark": {"type": "text", "align": "left", "baseline": "middle", "fontSize": 12.5, "color": "#fff", "clip": false},
 "encoding": {"x": {"datum": {"year":2018,"month":9,"date":4,"utc":true}, "type": "temporal", "scale": {"type": "utc", "domain": [{"year":2008,"month":9,"date":9,"utc":true}, {"year":2018,"month":7,"date":17,"utc":true}]}}, "y": {"field": "v", "type": "quantitative", "scale": {"domain": [-10, 100.5], "nice": false, "zero": false}}, "text": {"field": "txt"}}},
{"data": {"values": [{}]},
 "mark": {"type": "rule", "color": "#000", "strokeWidth": 4, "clip": false},
 "encoding": {"x": {"datum": {"year":2019,"month":9,"date":15,"utc":true}, "type": "temporal", "scale": {"type": "utc", "domain": [{"year":2008,"month":9,"date":9,"utc":true}, {"year":2018,"month":7,"date":17,"utc":true}]}}}}
]
}
]
}
